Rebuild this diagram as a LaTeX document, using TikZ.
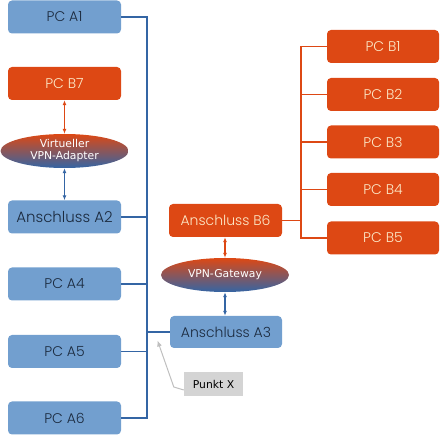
\documentclass[tikz,border=0pt]{standalone}
\usepackage{fontspec}
\setmainfont{Poppins}[UprightFont=* Light]
\newfontfamily\djv{DejaVu Sans}
\usetikzlibrary{shapes.geometric,arrows.meta}
\definecolor{boxblue}{HTML}{729FCF}
\definecolor{lineblue}{HTML}{3465A4}
\definecolor{boxorange}{HTML}{DD4814}
\definecolor{txtblue}{HTML}{1B2A3E}
\definecolor{txtorange}{HTML}{FCE9C8}
\tikzset{
  abox/.style={fill=boxblue, rounded corners=4pt, minimum width=113pt, minimum height=33pt, inner sep=0pt, text=txtblue, font=\fontsize{14}{15}\selectfont},
  bbox/.style={fill=boxorange, rounded corners=4pt, minimum width=113pt, minimum height=33pt, inner sep=0pt, text=txtorange, font=\fontsize{14}{15}\selectfont},
  vpn/.style={ellipse, minimum width=128pt, minimum height=34pt, inner sep=0pt, top color=boxorange, bottom color=lineblue, text=white, align=center, font=\djv\fontsize{10.8}{12}\selectfont},
  bline/.style={draw=lineblue, line width=1.4pt},
  oline/.style={draw=boxorange, line width=1.4pt},
  dbl/.style={{Latex[length=5pt,width=4pt]}-{Latex[length=5pt,width=4pt]}, line width=1.4pt}
}
\begin{document}
\begin{tikzpicture}[x=1pt,y=-1pt]
\useasboundingbox (0,0) rectangle (440,435);
% A side
\node[abox] (a1) at (64.5,17) {PC A1};
\node[bbox] (b7) at (64.5,83.5) {PC B7};
\node[vpn] (va) at (64.5,151) {Virtueller\\VPN-Adapter};
\node[abox, font=\fontsize{15}{16}\selectfont] (a2) at (64.5,217) {Anschluss A2};
\node[abox] (a4) at (64.5,284) {PC A4};
\node[abox] (a5) at (64.5,351.5) {PC A5};
\node[abox] (a6) at (64.5,418) {PC A6};
% middle
\node[bbox] (b6) at (225.5,220.5) {Anschluss B6};
\node[vpn] (gw) at (225,275) {VPN-Gateway};
\node[abox, minimum width=112pt, minimum height=32pt] (a3) at (226,332) {Anschluss A3};
\node[fill=black!17, minimum width=59pt, minimum height=24pt, inner sep=0pt, font=\djv\fontsize{10.8}{12}\selectfont] (px) at (213.5,384) {Punkt X};
% B side
\node[bbox, minimum width=112pt] (b1) at (383,46.5) {PC B1};
\node[bbox, minimum width=112pt] (b2) at (383,94.5) {PC B2};
\node[bbox, minimum width=112pt] (b3) at (383,142) {PC B3};
\node[bbox, minimum width=112pt] (b4) at (383,189.5) {PC B4};
\node[bbox, minimum width=112pt] (b5) at (383,238) {PC B5};
% bus coordinates
\coordinate (busA) at (147,0);
\coordinate (busB) at (301,0);
\coordinate (xpt) at (157.5,340.5);
% A bus
\draw[bline] (a1.east) -- (a1.east -| busA) -- (a6.east -| busA) -- (a6.east);
\draw[bline] (a2.east) -- (a2.east -| busA);
\draw[bline] (a4.east) -- (a4.east -| busA);
\draw[bline] (a5.east) -- (a5.east -| busA);
\draw[bline] (a3.west) -- (a3.west -| busA);
% B bus
\draw[oline] (b1.west) -- (b1.west -| busB) -- (b5.west -| busB) -- (b5.west);
\draw[oline] (b2.west) -- (b2.west -| busB);
\draw[oline] (b3.west) -- (b3.west -| busB);
\draw[oline] (b4.west) -- (b4.west -| busB);
\draw[oline] (b6.east) -- (b6.east -| busB);
% vertical arrows
\draw[dbl, draw=boxorange, fill=boxorange] (b7.south) -- (va.north);
\draw[dbl, draw=lineblue, fill=lineblue] (va.south) -- (a2.north);
\draw[dbl, draw=boxorange, fill=boxorange] (gw.north |- b6.south) -- (gw.north);
\draw[dbl, draw=lineblue, fill=lineblue] (gw.south) -- (gw.south |- a3.north);
% Punkt X pointer
\draw[black!25, line width=1pt, -{Latex[length=6pt,width=5pt]}] ([yshift=-6pt]px.west) -- ++(-10,-3) -- (xpt);
\end{tikzpicture}
\end{document}
